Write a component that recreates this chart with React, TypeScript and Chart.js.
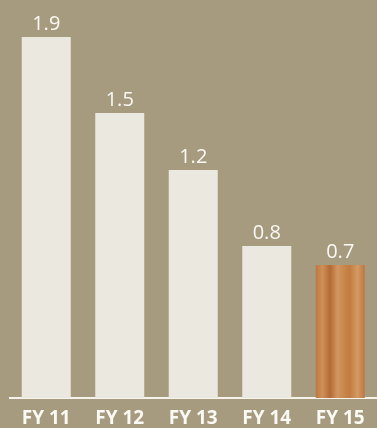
import React, { useEffect, useRef } from "react";
import { Chart, registerables } from "chart.js";

Chart.register(...registerables);

const categories = ["FY 11", "FY 12", "FY 13", "FY 14", "FY 15"];
const values = [1.9, 1.5, 1.2, 0.8, 0.7];
const valueLabels = ["1.9", "1.5", "1.2", "0.8", "0.7"];

const BG = "#a69a7f";
const CREAM = "#ebe8df";
const TEXT = "#fbf9f4";

function woodPattern(): CanvasPattern | string {
  const c = document.createElement("canvas");
  c.width = 50;
  c.height = 140;
  const g = c.getContext("2d");
  if (!g) return "#c8844c";
  const grad = g.createLinearGradient(0, 0, 50, 0);
  grad.addColorStop(0, "#c47c43");
  grad.addColorStop(0.15, "#d39a62");
  grad.addColorStop(0.3, "#bd7540");
  grad.addColorStop(0.45, "#cf9058");
  grad.addColorStop(0.6, "#b36a35");
  grad.addColorStop(0.75, "#d29660");
  grad.addColorStop(0.9, "#c88548");
  grad.addColorStop(1, "#c27a42");
  g.fillStyle = grad;
  g.fillRect(0, 0, 50, 140);
  const p = g.createPattern(c, "repeat");
  return p || "#c8844c";
}

const valueLabelPlugin = {
  id: "valueLabels",
  afterDatasetsDraw(chart: any) {
    const ctx = chart.ctx;
    const meta = chart.getDatasetMeta(0);
    ctx.save();
    ctx.fillStyle = TEXT;
    ctx.font = "20px 'Open Sans'";
    ctx.textAlign = "center";
    ctx.textBaseline = "alphabetic";
    meta.data.forEach((el: any, i: number) => {
      ctx.fillText(valueLabels[i], el.x, el.y - 7);
    });
    ctx.restore();
  },
};

export default function App() {
  const ref = useRef<HTMLCanvasElement>(null);
  useEffect(() => {
    if (!ref.current) return;
    const colors = values.map((_, i) => (i === values.length - 1 ? woodPattern() : CREAM));
    const chart = new Chart(ref.current, {
      type: "bar",
      data: {
        labels: categories,
        datasets: [
          {
            data: values,
            backgroundColor: colors as any,
            borderWidth: 0,
            categoryPercentage: 0.667,
            barPercentage: 1,
          },
        ],
      },
      options: {
        animation: false,
        responsive: false,
        maintainAspectRatio: false,
        layout: { padding: { left: 9.5, right: 0, top: 18, bottom: 0 } },
        plugins: { legend: { display: false }, tooltip: { enabled: false } },
        scales: {
          y: { display: false, min: 0, max: 2 },
          x: {
            grid: { display: false, drawTicks: false },
            border: { display: true, color: "#f6f3ec", width: 2 },
            ticks: {
              color: TEXT,
              padding: 9,
              font: { family: "'Open Sans'", size: 19, weight: "bold" },
            },
            afterFit(scale: any) {
              scale.height = 30;
            },
          },
        },
      },
      plugins: [valueLabelPlugin],
    });
    return () => chart.destroy();
  }, []);
  return (
    <div style={{ position: "fixed", left: 0, top: 0, width: 377, height: 428, background: BG }}>
      <canvas ref={ref} width={377} height={428} style={{ display: "block" }} />
    </div>
  );
}
